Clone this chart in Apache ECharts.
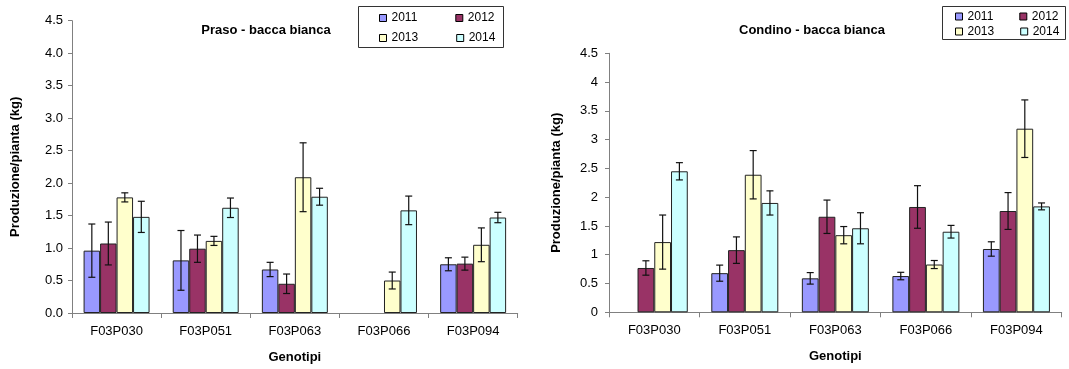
<!DOCTYPE html>
<html>
<head>
<meta charset="utf-8">
<script src="https://cdn.jsdelivr.net/npm/echarts@6/dist/echarts.min.js"></script>
<style>
  html, body { margin: 0; padding: 0; background: #fff; }
  #chart { width: 1069px; height: 369px; }
</style>
</head>
<body>
<div id="chart"></div>
<script>
// Genotypes and years
const categories = ['F03P030', 'F03P051', 'F03P063', 'F03P066', 'F03P094'];
const years = ['2011', '2012', '2013', '2014'];
const yTicks = [0, 0.5, 1, 1.5, 2, 2.5, 3, 3.5, 4, 4.5];

// Praso - bacca bianca: mean yield per plant (kg) and error
const praso2011 = [0.96, 0.81, 0.67, null, 0.75];
const praso2012 = [1.07, 0.99, 0.45, null, 0.76];
const praso2013 = [1.78, 1.11, 2.09, 0.50, 1.05];
const praso2014 = [1.48, 1.62, 1.79, 1.58, 1.47];
const prasoErr2011 = [0.41, 0.46, 0.11, null, 0.10];
const prasoErr2012 = [0.33, 0.21, 0.15, null, 0.10];
const prasoErr2013 = [0.07, 0.07, 0.53, 0.13, 0.26];
const prasoErr2014 = [0.24, 0.15, 0.13, 0.22, 0.08];

// Condino - bacca bianca
const condino2011 = [null, 0.68, 0.59, 0.63, 1.10];
const condino2012 = [0.77, 1.08, 1.66, 1.83, 1.76];
const condino2013 = [1.22, 2.39, 1.34, 0.83, 3.19];
const condino2014 = [2.45, 1.90, 1.46, 1.40, 1.84];
const condinoErr2011 = [null, 0.14, 0.10, 0.065, 0.125];
const condinoErr2012 = [0.125, 0.23, 0.29, 0.37, 0.32];
const condinoErr2013 = [0.47, 0.42, 0.15, 0.07, 0.50];
const condinoErr2014 = [0.15, 0.21, 0.27, 0.11, 0.06];

const colors = ['#9999FF', '#993366', '#FFFFCC', '#CCFFFF'];
const FONT = '"Liberation Sans", Arial, sans-serif';
const CAT_GAP = 0.26;

function errorRenderer(k) {
  return function (params, api) {
    const idx = api.value(0), v = api.value(1), e = api.value(2);
    const band = api.size([1, 0])[0];
    const group = band * (1 - CAT_GAP);
    const bw = group / 4;
    const x = api.coord([idx, v])[0] - group / 2 + (k + 0.5) * bw;
    const yHi = api.coord([idx, v + e])[1];
    const yLo = api.coord([idx, v - e])[1];
    const cap = 3.5;
    const style = { stroke: '#111', lineWidth: 1.2 };
    return {
      type: 'group',
      children: [
        { type: 'line', shape: { x1: x, y1: yHi, x2: x, y2: yLo }, style },
        { type: 'line', shape: { x1: x - cap, y1: yHi, x2: x + cap, y2: yHi }, style },
        { type: 'line', shape: { x1: x - cap, y1: yLo, x2: x + cap, y2: yLo }, style }
      ]
    };
  };
}

function panelSeries(gi, means, errs) {
  const out = [];
  means.forEach((data, k) => {
    out.push({
      type: 'bar', name: years[k], xAxisIndex: gi, yAxisIndex: gi,
      data: data, barGap: '0%', barCategoryGap: (CAT_GAP * 100) + '%',
      itemStyle: { color: colors[k], borderColor: '#222', borderWidth: 1 },
      emphasis: { disabled: true }, animation: false
    });
  });
  means.forEach((data, k) => {
    const pts = [];
    data.forEach((v, i) => { if (v != null) pts.push([i, v, errs[k][i]]); });
    out.push({
      type: 'custom', name: years[k] + ' err', xAxisIndex: gi, yAxisIndex: gi,
      renderItem: errorRenderer(k), data: pts, z: 5, animation: false, silent: true
    });
  });
  return out;
}

function xAxis(gi) {
  return {
    type: 'category', gridIndex: gi, data: categories,
    name: 'Genotipi', nameLocation: 'middle', nameGap: 38,
    nameTextStyle: { fontFamily: FONT, fontSize: 13, fontWeight: 'bold', color: '#000' },
    axisLine: { lineStyle: { color: '#808080', width: 1 } },
    axisTick: { show: true, length: 5, lineStyle: { color: '#808080' } },
    axisLabel: { fontFamily: FONT, fontSize: 13, color: '#000', margin: 12 },
    splitLine: { show: false }
  };
}

function yAxis(gi, fmt, gap, margin) {
  return {
    type: 'value', gridIndex: gi, min: yTicks[0], max: yTicks[yTicks.length - 1], interval: 0.5,
    name: 'Produzione/pianta (kg)', nameLocation: 'middle', nameGap: gap,
    nameTextStyle: { fontFamily: FONT, fontSize: 13, fontWeight: 'bold', color: '#000' },
    axisLine: { show: true, lineStyle: { color: '#808080', width: 1 } },
    axisTick: { show: true, length: 4, lineStyle: { color: '#808080' } },
    axisLabel: { fontFamily: FONT, fontSize: 13, color: '#000', margin: margin, formatter: fmt },
    splitLine: { show: false }
  };
}

function legendRow(names, left, top, gap) {
  return {
    data: names, left: left, top: top, itemGap: gap, itemWidth: 7, itemHeight: 7,
    icon: 'rect', itemStyle: { borderColor: '#000', borderWidth: 1 },
    textStyle: { fontFamily: FONT, fontSize: 12, color: '#000', padding: [0, 0, 0, 0] },
    padding: 0, selectedMode: false
  };
}

const chart = echarts.init(document.getElementById('chart'), null, { renderer: 'canvas' });
chart.setOption({
  backgroundColor: '#fff',
  animation: false,
  title: [
    { text: 'Praso - bacca bianca', left: 261, top: 19, textAlign: 'center',
      textStyle: { fontFamily: FONT, fontSize: 13, fontWeight: 'bold', color: '#000' } },
    { text: 'Condino - bacca bianca', left: 807, top: 19, textAlign: 'center',
      textStyle: { fontFamily: FONT, fontSize: 13, fontWeight: 'bold', color: '#000' } }
  ],
  graphic: [
    { type: 'rect', shape: { x: 358.5, y: 6.5, width: 145, height: 41 },
      style: { fill: '#fff', stroke: '#333', lineWidth: 1 }, z: 0 },
    { type: 'rect', shape: { x: 942.5, y: 6.5, width: 123, height: 33 },
      style: { fill: '#fff', stroke: '#333', lineWidth: 1 }, z: 0 }
  ],
  legend: [
    legendRow(['2011', '2012'], 379, 12, 38),
    legendRow(['2013', '2014'], 379, 32, 38),
    legendRow(['2011', '2012'], 955, 10.5, 26),
    legendRow(['2013', '2014'], 955, 25.5, 26)
  ],
  grid: [
    { left: 72, top: 20.7, width: 445.7, height: 292.8 },
    { left: 609, top: 53.3, width: 452.7, height: 259 }
  ],
  xAxis: [xAxis(0), xAxis(1)],
  yAxis: [
    yAxis(0, v => v.toFixed(1), 50, 9),
    yAxis(1, v => String(v), 46, 11)
  ],
  series: [
    ...panelSeries(0, [praso2011, praso2012, praso2013, praso2014],
                      [prasoErr2011, prasoErr2012, prasoErr2013, prasoErr2014]),
    ...panelSeries(1, [condino2011, condino2012, condino2013, condino2014],
                      [condinoErr2011, condinoErr2012, condinoErr2013, condinoErr2014])
  ]
});
</script>
</body>
</html>
